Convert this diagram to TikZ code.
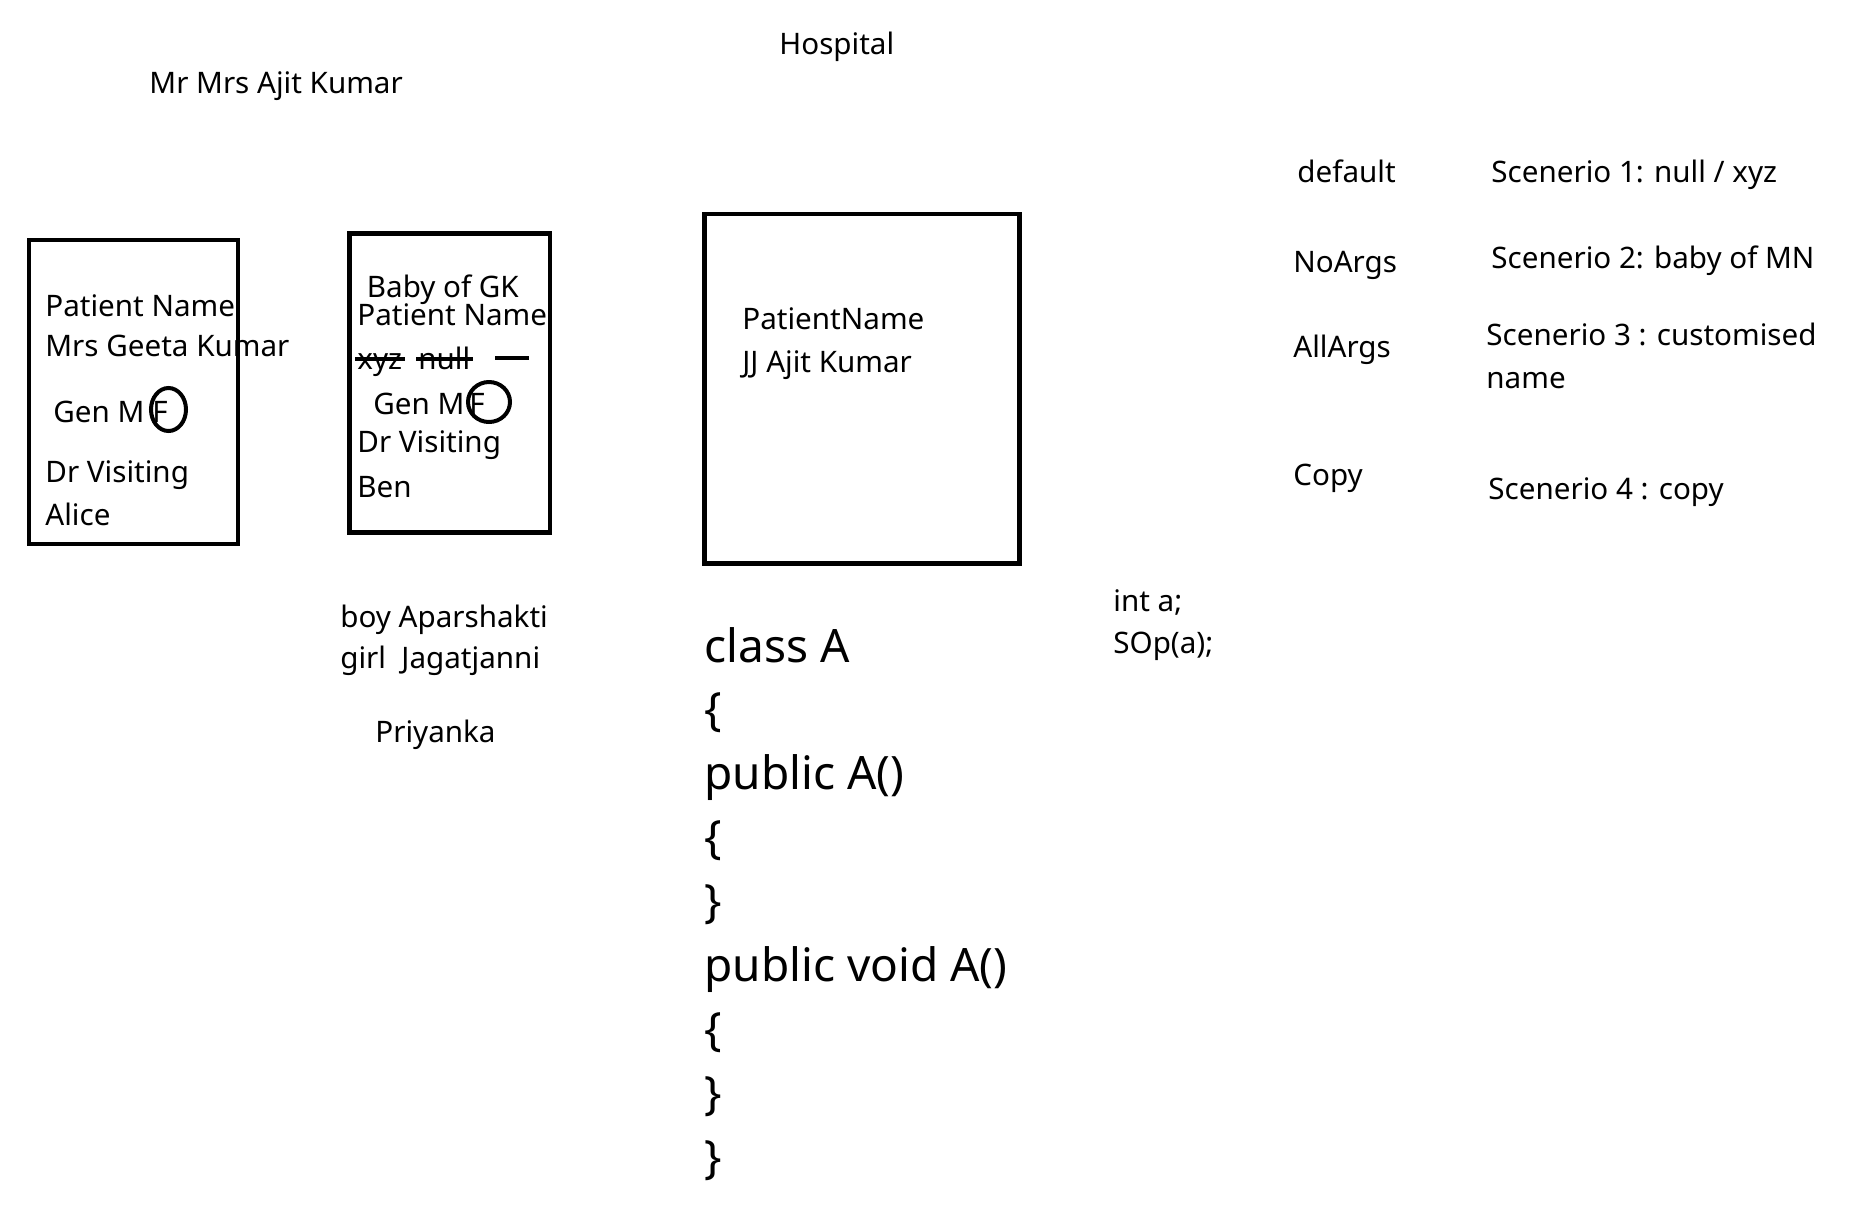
\documentclass[tikz,border=0pt]{standalone}
\usepackage{fontspec}
\setmainfont{Noto Sans}
\usepackage{tikz}
\usetikzlibrary{calc}

\tikzset{
  txt/.style={anchor=base west, inner sep=0pt, font=\fontsize{14.8}{17}\selectfont},
  codeline/.style={txt, font=\fontsize{23}{28}\selectfont},
  card/.style={draw=black, line width=2.4pt},
  strike/.style={draw=black, line width=2pt},
  ring/.style={draw=black, line width=2pt}
}

\begin{document}
\begin{tikzpicture}[x=0.5pt,y=-0.5pt]
  \useasboundingbox[fill=white] (0,0) rectangle (1866,1217);

  % headings
  \node[txt] (hosp) at (779,54) {Hospital};
  \node[txt] (parents) at (149,93) {Mr Mrs Ajit Kumar};

  % first card
  \draw[card] (29,240) rectangle (238,544);
  \node[txt] (pname1) at (45,316) {Patient Name};
  \node[txt] (pval1) at (45,356) {Mrs Geeta Kumar};
  \node[txt] (pgen1) at (53,422) {Gen M\hspace{4pt}F};
  \draw[ring] (168.5,409.5) ellipse [x radius=8.75pt, y radius=10.75pt];
  \node[txt] (pdr1) at (45,482) {Dr Visiting};
  \node[txt] (pdoc1) at (45,525) {Alice};

  % second card
  \draw[card] (349.5,233.5) rectangle (550,532.5);
  \node[txt] (pbaby2) at (366.5,297) {Baby of GK};
  \node[txt] (pname2) at (357,325) {Patient Name};
  \node[txt] (pold2) at (357,369) {xyz};
  \node[txt] (pnull2) at (418,369) {null};
  \draw[strike] (355,359) -- (405,359);
  \draw[strike] (416,359) -- (473,359);
  \draw[strike] (495,358) -- (529,358);
  \node[txt] (pgen2) at (373,414) {Gen M\hspace{2.5pt}F};
  \draw[ring] (489,402) ellipse [x radius=10.5pt, y radius=10pt];
  \node[txt] (pdr2) at (357,452) {Dr Visiting};
  \node[txt] (pdoc2) at (357,497) {Ben};

  % third card
  \draw[card] (704.5,214) rectangle (1019.5,563.5);
  \node[txt] (pname3) at (742,329) {PatientName};
  \node[txt] (pval3) at (742,372) {JJ Ajit Kumar};

  % names under second card
  \node[txt] (boy) at (340,627) {boy Aparshakti};
  \node[txt] (girl) at (340,668) {girl\ \ Jagatjanni};
  \node[txt] (priya) at (375,742) {Priyanka};

  % code
  \foreach \line [count=\i] in {{class A},{\{},{public A()},{\{},{\}},{public void A()},{\{},{\}},{\}}}
    \node[codeline] (code\i) at (704,{662+(\i-1)*63.9}) {\line};

  \node[txt] (inta) at (1113,611) {int a;};
  \node[txt] (sop) at (1113,653) {SOp(a);};

  % constructors
  \node[txt] (cdef) at (1297,182) {default};
  \node[txt] (cnoargs) at (1293,272) {NoArgs};
  \node[txt] (callargs) at (1293,357) {AllArgs};
  \node[txt] (ccopy) at (1293,485) {Copy};

  \node[txt] (scen1) at (1491,182) {Scenerio 1: null / xyz};
  \node[txt] (scen2) at (1491,268) {Scenerio 2: baby of MN};
  \node[txt] (scen3) at (1486,345) {Scenerio 3 : customised};
  \node[txt] (scen3b) at (1486,388) {name};
  \node[txt] (scen4) at (1488,499) {Scenerio 4 : copy};
\end{tikzpicture}
\end{document}
